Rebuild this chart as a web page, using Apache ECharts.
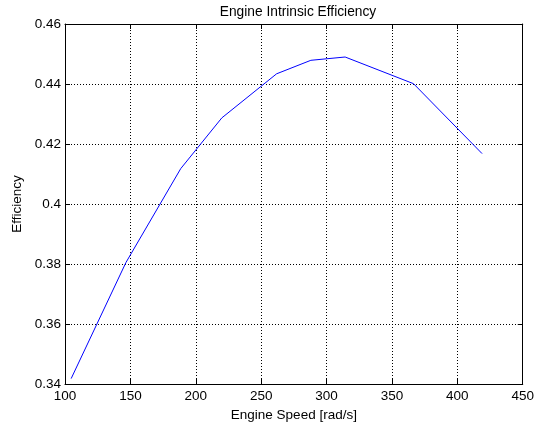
<!DOCTYPE html>
<html>
<head>
<meta charset="utf-8">
<script src="https://cdn.jsdelivr.net/npm/echarts@6/dist/echarts.min.js"></script>
<style>
  html, body { margin: 0; padding: 0; background: #fff; }
  #chart { width: 537px; height: 430px; }
</style>
</head>
<body>
<div id="chart"></div>
<script>
// engine speed [rad/s] and intrinsic efficiency
var speeds = [104.7, 146.6, 188.5, 219.9, 261.8, 288.0, 314.2, 366.5, 418.9];
var efficiency = [0.3418, 0.3805, 0.4118, 0.4287, 0.4434, 0.4479, 0.4490, 0.4401, 0.4168];

var points = speeds.map(function (s, i) { return [s, efficiency[i]]; });

var chart = echarts.init(document.getElementById('chart'));

var font = 'Liberation Sans, Arial, sans-serif';
// box axis: black frame with inward ticks, no labels
var frameLine = { show: true, lineStyle: { color: '#000', width: 1 } };
var frameTick = { show: true, inside: true, length: 5, lineStyle: { color: '#000' } };

var option = {
    animation: false,
    title: {
        text: 'Engine Intrinsic Efficiency',
        left: 293,
        textAlign: 'center',
        top: 0,
        textStyle: { fontFamily: font, fontSize: 13.75, fontWeight: 'normal', color: '#000' }
    },
    grid: { left: 65, right: 13, top: 24, bottom: 46 },
    xAxis: [{
        type: 'value',
        min: 100,
        max: 450,
        interval: 50,
        name: 'Engine Speed [rad/s]',
        nameLocation: 'middle',
        nameGap: 22,
        nameTextStyle: { fontFamily: font, fontSize: 13.5, color: '#000' },
        axisLine: frameLine,
        axisTick: frameTick,
        axisLabel: { fontFamily: font, fontSize: 13.5, color: '#000', margin: 5 },
        splitLine: { show: true, lineStyle: { color: '#000', type: [1, 2], width: 1 } }
    }, {
        type: 'value',
        position: 'top',
        min: 100,
        max: 450,
        interval: 50,
        axisLine: frameLine,
        axisTick: frameTick,
        axisLabel: { show: false },
        splitLine: { show: false }
    }],
    yAxis: [{
        type: 'value',
        min: 0.34,
        max: 0.46,
        interval: 0.02,
        name: 'Efficiency',
        nameLocation: 'middle',
        nameGap: 40,
        nameTextStyle: { fontFamily: font, fontSize: 13.5, color: '#000' },
        axisLine: frameLine,
        axisTick: frameTick,
        axisLabel: { fontFamily: font, fontSize: 13.5, color: '#000', margin: 4 },
        splitLine: { show: true, lineStyle: { color: '#000', type: [1, 2], width: 1 } }
    }, {
        type: 'value',
        position: 'right',
        min: 0.34,
        max: 0.46,
        interval: 0.02,
        axisLine: frameLine,
        axisTick: frameTick,
        axisLabel: { show: false },
        splitLine: { show: false }
    }],
    series: [{
        type: 'line',
        data: points,
        symbol: 'none',
        lineStyle: { color: '#0000ff', width: 1 }
    }]
};
chart.setOption(option);
</script>
</body>
</html>
